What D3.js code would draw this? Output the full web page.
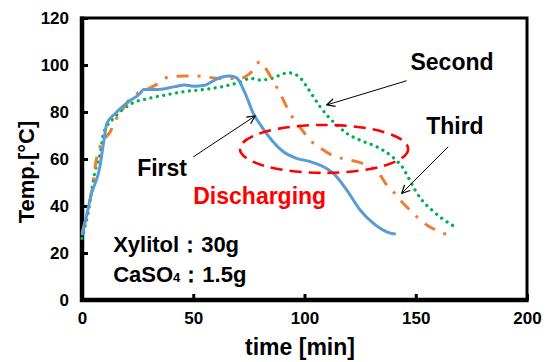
<!DOCTYPE html>
<html>
<head>
<meta charset="utf-8">
<script src="https://cdn.jsdelivr.net/npm/d3@7"></script>
<style>
  body { margin: 0; background: #fff; }
  svg text { font-family: "Liberation Sans", Arial, sans-serif; font-weight: bold; }
</style>
</head>
<body>
<div id="chart"></div>
<script>
// time [min] / temperature [°C]
const firstTime = [0, 0.9, 4.2, 8, 9.7, 11.2, 15, 21, 26.2, 27.7, 34.5, 41.7, 46.1, 50, 55.1, 59.6, 62.6, 66.4, 69.5, 73.3, 77, 80.8, 85.3, 90.5, 96.5, 102.5, 108.5, 113, 119, 125, 131, 137, 141];
const firstTemp = [27.5, 31, 45, 56.5, 67, 75.2, 79.4, 84.4, 88, 89.6, 89.6, 90.8, 91.5, 91, 91.4, 93.6, 94.8, 95.3, 94.5, 88, 79.4, 73.7, 68, 63.1, 60.3, 58.9, 56.7, 53.9, 46.8, 38.3, 32.6, 29, 28];

const secondTime = [0, 2.7, 6, 8.2, 9.7, 15, 22.5, 30, 39, 46.1, 55.1, 64.1, 71.6, 75.5, 80, 85.3, 89, 92.5, 97.2, 100.5, 104, 107, 110, 114.5, 119, 125, 132.4, 140, 144.4, 147, 149.7, 152.7, 157.2, 161.7, 167];
const secondTemp = [26.2, 36.9, 55.3, 62.4, 71, 78, 83.7, 85.8, 87.5, 88.7, 89.6, 91, 92.9, 94.3, 93.6, 94.3, 95.7, 96.7, 95.3, 91.5, 86.5, 82.3, 78.7, 74.5, 70.9, 68, 65.2, 60.5, 56, 51.5, 46.8, 42.6, 38.3, 34.8, 31.5];

const thirdTime = [0, 2, 4.2, 6.7, 9.7, 12.7, 14.8, 18, 22, 25, 30, 35, 39, 46, 52, 55, 62.6, 68.6, 72, 76.3, 80, 83, 86, 89, 91.2, 93.5, 97.2, 99.5, 104, 108.5, 112.2, 118.2, 123.5, 129.4, 133.2, 137, 140, 143.7, 147.4, 151.2, 155.6, 161, 165.4];
const thirdTemp = [28.4, 36, 45.5, 61, 68, 71.6, 76, 80.8, 86, 88, 90, 92.5, 95, 95.3, 95.3, 95, 94.3, 94.3, 94.5, 97.2, 101.4, 97.9, 92.9, 88, 83.7, 79.4, 74.5, 71.6, 66.7, 63.8, 61.7, 59.9, 58.9, 56.7, 54.2, 48.9, 46, 41.8, 38.3, 34.8, 31.5, 29, 27.2];

const xTicks = [0, 50, 100, 150, 200];
const yTicks = [0, 20, 40, 60, 80, 100, 120];

// annotations, in data units
const labels = [
  { text: 'First', t: 36, v: 56.2, color: '#000', anchor: 'middle' },
  { text: 'Second', t: 166.3, v: 101.3, color: '#000', anchor: 'middle' },
  { text: 'Third', t: 167.6, v: 74, color: '#000', anchor: 'middle' },
  { text: 'Discharging', t: 50, v: 44.3, color: '#ff0000', anchor: 'start' }
];
const arrows = [
  { t0: 50, v0: 60.9, t1: 77.8, v1: 78.3 },
  { t0: 145.9, v0: 93.3, t1: 110, v1: 83 },
  { t0: 164.6, v0: 65.2, t1: 143.7, v1: 45.4 }
];
const ellipse = { t: 108.8, v: 64.3, rt: 37.8, rv: 10.2 };

const width = 547, height = 362;
const margin = { top: 18, right: 20, bottom: 62, left: 82 };

const svg = d3.select('#chart')
  .append('svg')
  .attr('width', width)
  .attr('height', height);

const x = d3.scaleLinear().domain([0, 200]).range([margin.left, width - margin.right]);
const y = d3.scaleLinear().domain([0, 120]).range([height - margin.bottom, margin.top]);

// axes (ticks point inward)
const xAxis = svg.append('g')
  .attr('transform', `translate(0,${y(0)})`)
  .call(d3.axisBottom(x).tickValues(xTicks).tickSizeInner(-6).tickSizeOuter(0).tickPadding(12));
const yAxis = svg.append('g')
  .attr('transform', `translate(${x(0)},0)`)
  .call(d3.axisLeft(y).tickValues(yTicks).tickSizeInner(-6).tickSizeOuter(0).tickPadding(13));

[xAxis, yAxis].forEach(g => {
  g.select('.domain').remove();
  g.selectAll('line').attr('stroke', '#000').attr('stroke-width', 3);
  g.selectAll('text').style('font-size', '17px').attr('fill', '#000');
});

// frame
svg.append('rect')
  .attr('x', x(0)).attr('y', y(120))
  .attr('width', x(200) - x(0)).attr('height', y(0) - y(120))
  .attr('fill', 'none').attr('stroke', '#000').attr('stroke-width', 3);
svg.append('path')
  .attr('d', `M${x(0)},${y(120) - 1.5}V${y(0)}H${x(200) + 1.5}`)
  .attr('fill', 'none').attr('stroke', '#000').attr('stroke-width', 4.5);

// axis titles
svg.append('text')
  .attr('x', 300).attr('y', 355)
  .attr('text-anchor', 'middle')
  .style('font-size', '23px')
  .text('time [min]');
svg.append('text')
  .attr('transform', 'translate(34,172) rotate(-90)')
  .attr('text-anchor', 'middle')
  .style('font-size', '22px')
  .text('Temp.[°C]');

const line = d3.line()
  .x(d => x(d[0]))
  .y(d => y(d[1]))
  .curve(d3.curveMonotoneX);

const zip = (a, b) => a.map((t, i) => [t, b[i]]);

// Second (green dotted)
svg.append('path')
  .datum(zip(secondTime, secondTemp))
  .attr('d', line)
  .attr('fill', 'none')
  .attr('stroke', '#00b050')
  .attr('stroke-width', 3.3)
  .attr('stroke-linecap', 'round')
  .attr('stroke-dasharray', '0.01,6.5');

// Third (orange dash-dot)
svg.append('path')
  .datum(zip(thirdTime, thirdTemp))
  .attr('d', line)
  .attr('fill', 'none')
  .attr('stroke', '#ed7d31')
  .attr('stroke-width', 3)
  .attr('stroke-dasharray', '12,9,3,9');

// First (blue solid)
svg.append('path')
  .datum(zip(firstTime, firstTemp))
  .attr('d', line)
  .attr('fill', 'none')
  .attr('stroke', '#5b9bd5')
  .attr('stroke-width', 3);

// discharging ellipse
svg.append('ellipse')
  .attr('cx', x(ellipse.t)).attr('cy', y(ellipse.v))
  .attr('rx', x(ellipse.rt) - x(0)).attr('ry', y(0) - y(ellipse.rv))
  .attr('fill', 'none')
  .attr('stroke', '#ff0000')
  .attr('stroke-width', 2.6)
  .attr('stroke-dasharray', '12,7');

// arrows
svg.append('defs').append('marker')
  .attr('id', 'head')
  .attr('viewBox', '0 0 10 10')
  .attr('refX', 9).attr('refY', 5)
  .attr('markerWidth', 10).attr('markerHeight', 10)
  .attr('markerUnits', 'userSpaceOnUse')
  .attr('orient', 'auto')
  .append('path')
  .attr('d', 'M1,1L9,5L1,9')
  .attr('fill', 'none')
  .attr('stroke', '#000')
  .attr('stroke-width', 1.2);

svg.selectAll('.arrow')
  .data(arrows)
  .enter()
  .append('line')
  .attr('class', 'arrow')
  .attr('x1', d => x(d.t0)).attr('y1', d => y(d.v0))
  .attr('x2', d => x(d.t1)).attr('y2', d => y(d.v1))
  .attr('stroke', '#000')
  .attr('stroke-width', 1)
  .attr('marker-end', 'url(#head)');

svg.selectAll('.label')
  .data(labels)
  .enter()
  .append('text')
  .attr('class', 'label')
  .attr('x', d => x(d.t))
  .attr('y', d => y(d.v))
  .attr('dy', '0.36em')
  .attr('text-anchor', d => d.anchor)
  .attr('fill', d => d.color)
  .style('font-size', '23px')
  .text(d => d.text);

// sample note
svg.append('text')
  .attr('x', x(14)).attr('y', y(23.8)).attr('dy', '0.36em')
  .style('font-size', '22px')
  .text('Xylitol：30g');
const note2 = svg.append('text')
  .attr('x', x(14)).attr('y', y(11)).attr('dy', '0.36em')
  .style('font-size', '22px');
note2.append('tspan').text('CaSO');
note2.append('tspan').style('font-size', '13px').text('4');
note2.append('tspan').text('：1.5g');
</script>
</body>
</html>
